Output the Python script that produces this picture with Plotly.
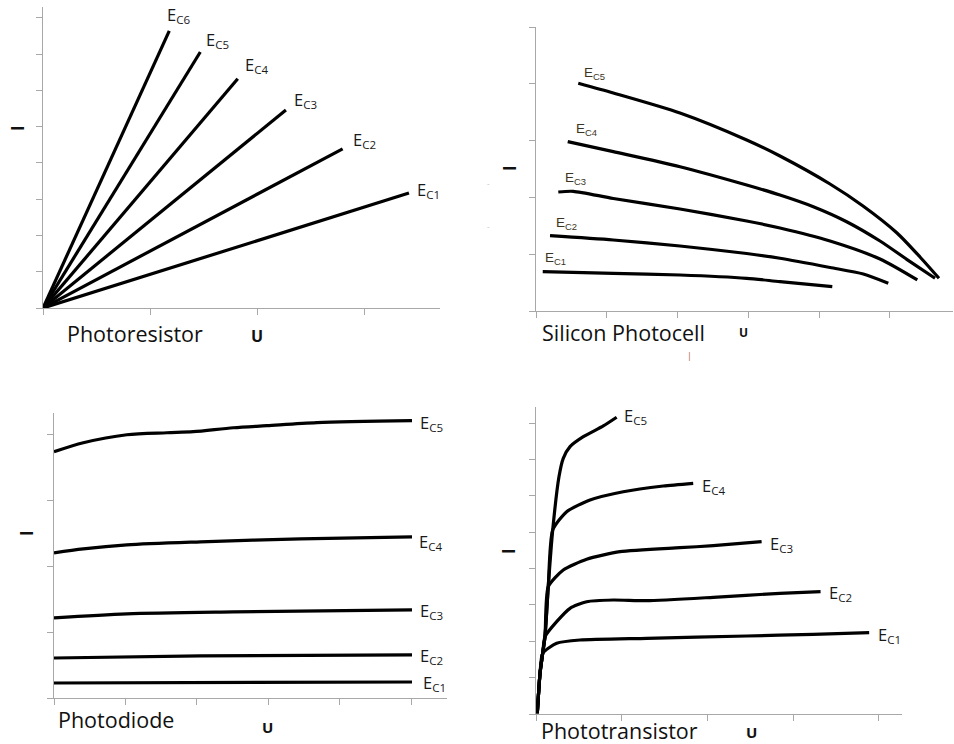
import plotly.graph_objects as go

W, H = 954, 744

# ---------------- data (arbitrary units = tick spacing) -------------
# Panel 1: Photoresistor (straight lines from origin)
pr_names = ["EC1", "EC2", "EC3", "EC4", "EC5", "EC6"]
pr_x = [[0, 3.42], [0, 2.80], [0, 2.27], [0, 1.82], [0, 1.47], [0, 1.18]]
pr_y = [[0, 3.17], [0, 4.39], [0, 5.46], [0, 6.32], [0, 7.06], [0, 7.64]]

# Panel 2: Silicon Photocell
sp_names = ["EC1", "EC2", "EC3", "EC4", "EC5"]
sp_x = [
    [0.095, 1.092, 2.034, 2.976, 3.446, 4.185],
    [0.198, 1.092, 2.034, 2.976, 3.446, 4.153, 4.623, 4.976],
    [0.315, 0.527, 1.092, 2.034, 2.976, 3.446, 4.153, 4.859, 5.386],
    [0.448, 1.092, 2.034, 2.976, 3.446, 3.917, 4.388, 4.859, 5.236, 5.636],
    [0.597, 1.092, 2.034, 2.976, 3.446, 4.153, 4.619, 5.099, 5.424, 5.692],
]
sp_y = [
    [0.692, 0.664, 0.634, 0.576, 0.516, 0.428],
    [1.326, 1.250, 1.144, 1.012, 0.928, 0.766, 0.651, 0.488],
    [2.095, 2.107, 1.981, 1.796, 1.585, 1.461, 1.232, 0.915, 0.546],
    [2.981, 2.805, 2.540, 2.218, 2.042, 1.836, 1.572, 1.232, 0.910, 0.576],
    [4.009, 3.838, 3.486, 3.011, 2.729, 2.236, 1.849, 1.374, 0.951, 0.576],
]

# Panel 3: Photodiode
pd_names = ["EC1", "EC2", "EC3", "EC4", "EC5"]
pd_x = [
    [0.0, 5.01],
    [0.0, 2.05, 5.01],
    [0.0, 1.02, 2.51, 5.01],
    [0.0, 0.41, 1.02, 2.05, 3.45, 5.01],
    [0.0, 0.41, 1.02, 1.58, 1.95, 2.51, 2.98, 3.68, 5.01],
]
pd_y = [
    [0.228, 0.243],
    [0.608, 0.639, 0.654],
    [1.217, 1.278, 1.308, 1.338],
    [2.205, 2.266, 2.327, 2.373, 2.418, 2.449],
    [3.741, 3.878, 4.000, 4.030, 4.046, 4.106, 4.137, 4.183, 4.213],
]

# Panel 4: Phototransistor
pt_names = ["EC1", "EC2", "EC3", "EC4", "EC5"]
pt_x = [
    [0.015, 0.047, 0.078, 0.241, 0.513, 1.291, 2.457, 3.234, 3.887],
    [0.015, 0.047, 0.078, 0.105, 0.241, 0.397, 0.591, 0.901, 1.291, 2.068, 2.845, 3.320],
    [0.015, 0.047, 0.078, 0.105, 0.143, 0.318, 0.591, 0.980, 1.679, 2.068, 2.632],
    [0.015, 0.047, 0.078, 0.105, 0.143, 0.195, 0.358, 0.630, 1.018, 1.485, 1.834],
    [0.015, 0.047, 0.078, 0.105, 0.143, 0.195, 0.268, 0.318, 0.397, 0.552, 0.785, 0.941],
]
pt_y = [
    [0.02, 1.119, 1.669, 1.944, 2.034, 2.081, 2.144, 2.191, 2.235],
    [0.02, 1.119, 1.669, 2.125, 2.538, 2.906, 3.087, 3.134, 3.115, 3.208, 3.318, 3.362],
    [0.02, 1.119, 1.669, 2.125, 3.500, 3.959, 4.253, 4.462, 4.572, 4.627, 4.737],
    [0.02, 1.119, 1.669, 2.125, 3.500, 5.058, 5.562, 5.883, 6.111, 6.268, 6.342],
    [0.02, 1.119, 1.669, 2.125, 3.500, 5.058, 6.524, 7.030, 7.349, 7.623, 7.918, 8.157],
]

titles = ["Photoresistor", "Silicon Photocell", "Photodiode", "Phototransistor"]

# ---------------- layout helpers ----------------
def px_x(p):
    return p / W

def px_y(p):
    return 1 - p / H

AXC = "#a8a8a8"

# panel geometry in pixels: (x0, x1, y_top, y_bottom, xrange, yrange, n xticks, n yticks)
panels = [
    (43, 440, 7, 308, 3.71, 8.30, 3, 8),
    (536, 953, 27, 311, 5.89, 5.0, 5, 5),
    (54, 447, 413, 698, 5.50, 4.33, 5, 4),
    (536, 902, 407, 714, 4.27, 8.44, 4, 8),
]

fig = go.Figure()
layout = dict(width=W, height=H, margin=dict(l=0, r=0, t=0, b=0),
              paper_bgcolor="white", plot_bgcolor="white", showlegend=False)

for i, (x0, x1, yt, yb, xr, yr, nxt, nyt) in enumerate(panels, start=1):
    sfx = "" if i == 1 else str(i)
    layout["xaxis" + sfx] = dict(
        domain=[px_x(x0), px_x(x1)], range=[0, xr], anchor="y" + sfx,
        showline=True, linecolor=AXC, linewidth=1, ticks="outside", ticklen=6,
        tickcolor=AXC, tickwidth=1, tickvals=list(range(nxt + 1)),
        showticklabels=False, showgrid=False, zeroline=False, fixedrange=True)
    layout["yaxis" + sfx] = dict(
        domain=[px_y(yb), px_y(yt)], range=[0, yr], anchor="x" + sfx,
        showline=True, linecolor=AXC, linewidth=1, ticks="outside", ticklen=6,
        tickcolor=AXC, tickwidth=1, tickvals=list(range(nyt + 1)),
        showticklabels=False, showgrid=False, zeroline=False, fixedrange=True)

fig.update_layout(**layout)

LINE = dict(color="black", width=3.2)

def add_curves(xs, ys, idx, spline=True, smooth=0.8):
    sfx = "" if idx == 1 else str(idx)
    for x, y in zip(xs, ys):
        ln = dict(LINE)
        if spline:
            ln["shape"] = "spline"
            ln["smoothing"] = smooth
        fig.add_trace(go.Scatter(x=x, y=y, mode="lines", line=ln,
                                 xaxis="x" + sfx, yaxis="y" + sfx,
                                 hoverinfo="skip"))

add_curves(pr_x, pr_y, 1, spline=False)
add_curves(sp_x, sp_y, 2, smooth=0.7)
add_curves(pd_x, pd_y, 3, smooth=0.8)
add_curves(pt_x, pt_y, 4, smooth=0.6)

annotations = []

def lab(name):
    return "E<sub>" + name[1:] + "</sub>"

def add_labels(names, xs, ys, idx, at_end, offsets, size, family, color="#1a1a1a"):
    sfx = "" if idx == 1 else str(idx)
    for n, x, y, (dx, dy) in zip(names, xs, ys, offsets):
        k = -1 if at_end else 0
        annotations.append(dict(
            x=x[k], y=y[k], xref="x" + sfx, yref="y" + sfx, text=lab(n),
            showarrow=False, xanchor="left", yanchor="middle",
            xshift=dx, yshift=dy, font=dict(size=size, family=family, color=color)))

FONT = "Open Sans"
add_labels(pr_names, pr_x, pr_y, 1, True,
           [(6, 3.5), (8, 8.5), (6, 9.5), (5, 13.5), (4, 12), (-4, 15.5)], 16.5, FONT)
add_labels(sp_names, sp_x, sp_y, 2, False,
           [(0, 12.7), (4, 12), (5, 13), (6, 11.7), (4, 10)], 13.5, "Liberation Sans", "#3a3424")
add_labels(pd_names, pd_x, pd_y, 3, True,
           [(9, -0.5), (6, -1), (6, -1.5), (5, -5.5), (6, -2.5)], 16.5, FONT)
add_labels(pt_names, pt_x, pt_y, 4, True,
           [(7, -2.3), (6, -1), (6, -2.3), (7, -2.7), (5, 1)], 16.5, FONT)

# panel titles, axis letters
title_pos = [(66, 333.5), (541, 333), (57, 719), (540, 730)]
u_pos = [(257, 336, 16), (743, 333, 12), (267, 727, 15), (751, 732, 15)]
i_pos = [(17, 128), (509, 168), (26, 533), (508, 551)]
for t, (tx, ty), (ux, uy, us), (ix, iy) in zip(titles, title_pos, u_pos, i_pos):
    annotations.append(dict(x=px_x(tx), y=px_y(ty), xref="paper", yref="paper",
                            text=t, showarrow=False, xanchor="left", yanchor="middle",
                            borderpad=0,
                            font=dict(size=21.5, family=FONT, color="#111")))
    annotations.append(dict(x=px_x(ux), y=px_y(uy), xref="paper", yref="paper",
                            text="<b>U</b>", showarrow=False, xanchor="center", yanchor="middle",
                            font=dict(size=us, family=FONT, color="#111")))
    annotations.append(dict(x=px_x(ix), y=px_y(iy), xref="paper", yref="paper",
                            text="<b>I</b>", showarrow=False, xanchor="center", yanchor="middle",
                            textangle=-90, font=dict(size=17, family=FONT, color="#111")))

# small stray marks seen in the source image
annotations.append(dict(x=px_x(488), y=px_y(175), xref="paper", yref="paper", text="-",
                        showarrow=False, font=dict(size=8, color="#bbbbbb", family=FONT)))
annotations.append(dict(x=px_x(488), y=px_y(218), xref="paper", yref="paper", text="-",
                        showarrow=False, font=dict(size=8, color="#bbbbbb", family=FONT)))
annotations.append(dict(x=px_x(694), y=px_y(355), xref="paper", yref="paper", text="|",
                        showarrow=False, font=dict(size=9, color="#b0603a", family=FONT)))

fig.update_layout(annotations=annotations)
fig.write_html("out.html", config={"displayModeBar": False},
               post_script="document.body.style.margin='0';document.body.style.overflow='hidden';")
